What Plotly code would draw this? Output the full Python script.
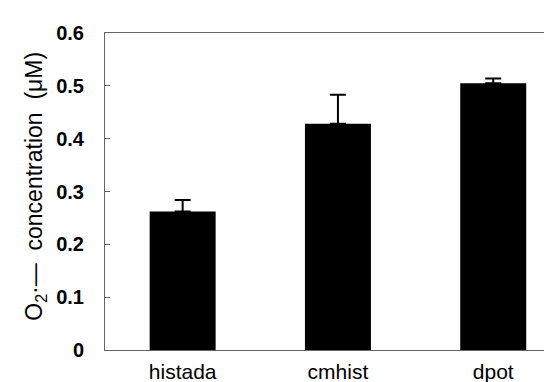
import plotly.graph_objects as go

categories = ["histada", "cmhist", "dpot"]
values = [0.262, 0.428, 0.505]
errors = [0.022, 0.055, 0.009]
y_ticks = [0, 0.1, 0.2, 0.3, 0.4, 0.5, 0.6]
y_tick_labels = ["0", "0.1", "0.2", "0.3", "0.4", "0.5", "0.6"]
y_title = "O<sub>2</sub>·—  concentration  (μM)"

fig = go.Figure()
fig.add_trace(go.Bar(
    x=categories, y=values, width=0.425,
    marker=dict(color="black", line=dict(width=0)),
    error_y=dict(type="data", array=errors, symmetric=False, arrayminus=[0, 0, 0],
                 color="black", thickness=2, width=8),
))

W, H = 552, 382
ml, mr, mt, mb = 97, 0, 25, 40
fig.update_layout(
    width=W, height=H,
    margin=dict(l=ml, r=mr, t=mt, b=mb, pad=0),
    paper_bgcolor="white", plot_bgcolor="white",
    showlegend=False,
    font=dict(family="Liberation Sans, Arial, sans-serif", color="black"),
    xaxis=dict(
        range=[-0.5, 2.43], showgrid=False, zeroline=False,
        showline=True, linecolor="#666", linewidth=1, mirror=True,
        ticks="", tickfont=dict(size=21, color="black"),
        ticklabelstandoff=3,
    ),
    yaxis=dict(
        range=[0, 0.6], tickvals=y_ticks, ticktext=y_tick_labels,
        showgrid=False, zeroline=False,
        showline=True, linecolor="#666", linewidth=1,
        ticks="inside", ticklen=5, tickcolor="#666", tickwidth=1,
        tickfont=dict(size=20, color="black", weight="bold"),
        ticklabelstandoff=16,
    ),
)

plot_w = W - ml - mr
fig.add_annotation(
    text=y_title, textangle=-90, showarrow=False,
    xref="paper", yref="paper",
    x=-(ml - 28) / plot_w, y=0.515, xanchor="center", yanchor="middle",
    font=dict(size=23, color="black", family="Liberation Sans, Arial, sans-serif"),
)

fig.write_html("out.html")
